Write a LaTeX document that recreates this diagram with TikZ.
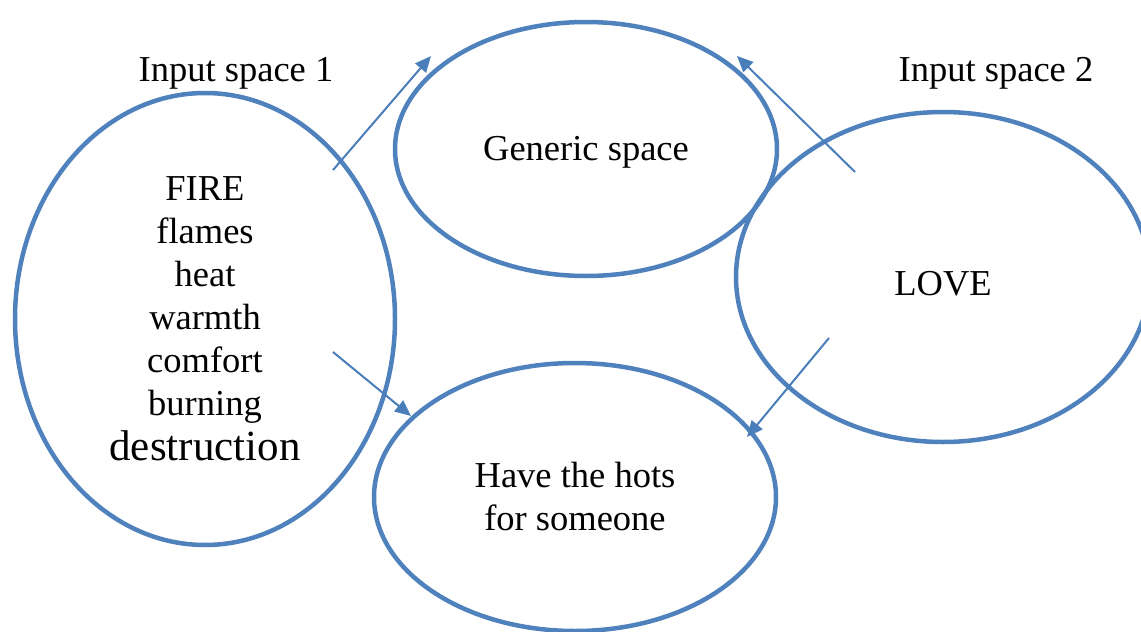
\documentclass[tikz,border=0pt]{standalone}
\usepackage{fontspec}
\setmainfont{Liberation Serif}
\usepackage{tikz}
\usetikzlibrary{shapes.geometric,arrows.meta}
\definecolor{spaceblue}{HTML}{4F81BD}
\definecolor{arrowblue}{HTML}{4A7EBB}

\begin{document}
\begin{tikzpicture}[x=1pt,y=-1pt,
        space/.style={draw=spaceblue,line width=4.5pt,ellipse,inner sep=0pt,align=center,
            font=\fontsize{36.5}{43}\selectfont},
        label/.style={font=\fontsize{36.5}{43}\selectfont},
        blend/.style={draw=arrowblue,line width=2pt,-{Triangle[length=16pt,width=14pt]}}]
        \useasboundingbox (0, 0) rectangle (1141, 632);

        \node[space,minimum width=380pt,minimum height=452pt] (InputOne) at (205, 319)
            {FIRE\\flames\\heat\\warmth\\comfort\\burning\\[2pt]{\fontsize{43}{45}\selectfont destruction}};
        \node[space,minimum width=382pt,minimum height=254pt,text height=31pt,text depth=8pt] (Generic) at (586, 149) {Generic space};
        \node[space,minimum width=414pt,minimum height=330pt,text height=37pt,text depth=0pt] (InputTwo) at (943, 277) {LOVE};
        \node[space,minimum width=402pt,minimum height=268pt] (Blend) at (575, 497) {Have the hots\\for someone};

        \node[label] (InputOneLabel) at (236, 73) {Input space 1};
        \node[label] (InputTwoLabel) at (996, 73) {Input space 2};

        \coordinate (OneUpStart) at (333, 170);
        \coordinate (OneUpEnd) at (431, 56);
        \coordinate (OneDownStart) at (333, 352);
        \coordinate (OneDownEnd) at (411, 416);
        \coordinate (TwoUpStart) at (855, 172);
        \coordinate (TwoUpEnd) at (737, 56);
        \coordinate (TwoDownStart) at (829, 338);
        \coordinate (TwoDownEnd) at (747, 437);

        \draw[blend] (OneUpStart) to (OneUpEnd);
        \draw[blend] (OneDownStart) to (OneDownEnd);
        \draw[blend] (TwoUpStart) to (TwoUpEnd);
        \draw[blend] (TwoDownStart) to (TwoDownEnd);
    \end{tikzpicture}
\end{document}
